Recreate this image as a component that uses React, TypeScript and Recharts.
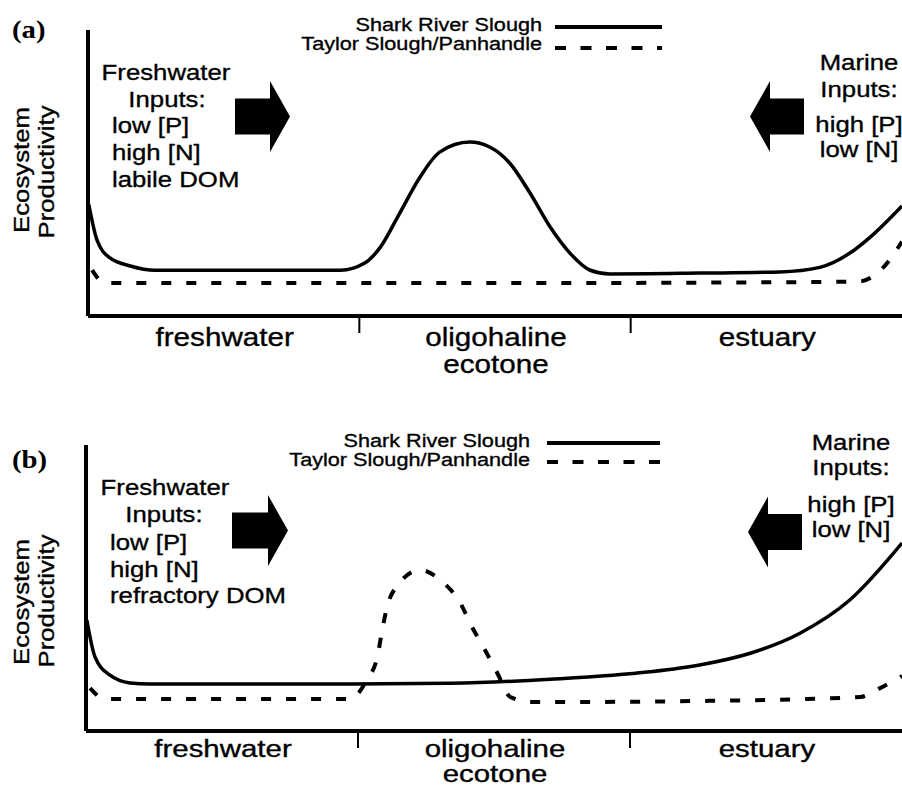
import { LineChart, Line, XAxis, YAxis } from 'recharts';

const SANS = "'Liberation Sans', Arial, Helvetica, sans-serif";
const SERIF = "'Liberation Serif', 'Times New Roman', serif";

// salinity zones along the transect (x axis, 0-100)
const zones = [['freshwater'], ['oligohaline', 'ecotone'], ['estuary']];
const seriesNames = ['Shark River Slough', 'Taylor Slough/Panhandle'];

// [position along transect, relative productivity]
const sharkA = [
  [0.1, 39], [1.1, 26.6], [2.7, 20.3], [5.2, 17.5], [8.2, 16], [19.9, 16], [31, 16],
  [34, 18.5], [35.9, 24], [38.3, 36], [40.8, 48.6], [43.2, 57.3], [46.9, 60.8],
  [49.4, 59], [51.8, 53.5], [54.3, 43], [56.8, 31], [59.2, 22], [61.7, 16],
  [64.1, 14.7], [75.2, 15], [85, 15.4], [89.9, 17], [93.6, 22], [96.1, 27.6], [100, 38.5],
];
const taylorA = [
  [0.5, 16], [2.1, 11.5], [3.6, 11.5], [50.6, 11.5], [94.6, 12], [97.7, 17], [100, 26],
];
const sharkB = [
  [0.1, 38.8], [1.1, 25.9], [2.9, 19.6], [5.4, 16.8], [7.8, 16.4], [32.4, 16.4],
  [44.6, 16.7], [56.9, 18.1], [69.1, 20.7], [75.2, 23.1], [81.4, 27.2], [87.5, 34.2],
  [93.6, 45.8], [100, 65.7],
];
const taylorB = [
  [0.5, 15], [2.3, 11.2], [32.4, 11.2], [34.4, 17.8], [35.7, 25.9], [36.3, 35.3],
  [36.9, 43.4], [38.2, 51], [40.9, 56.3], [43.7, 52.1], [45.8, 45.1], [47.3, 36.4],
  [48.9, 28.3], [50.4, 20.3], [52, 11.9], [54.7, 10.1], [75.2, 10.5], [94.9, 11.9],
  [97.3, 15], [100, 19.2],
];

const freshA = ['low [P]', 'high [N]', 'labile DOM'];
const freshB = ['low [P]', 'high [N]', 'refractory DOM'];
const marine = ['high [P]', 'low [N]'];

const pts = (arr: number[][]) => arr.map(([x, y]) => ({ x, y }));

const n = zones.length;
const zoneTicks: number[] = [];
for (let i = 0; i < n; i++) {
  zoneTicks.push(((i + 0.5) * 100) / n);
  if (i < n - 1) zoneTicks.push(((i + 1) * 100) / n);
}

const ZoneTick = (props: any) => {
  const { x, y, payload, dy1, dy2, size, sx } = props;
  const k = (payload.value * n) / 100;
  if (Math.abs(k - Math.round(k)) < 0.01) {
    return <line x1={x} x2={x} y1={y} y2={y + 17} stroke="#000" strokeWidth={2} />;
  }
  const lines = zones[Math.floor(k)];
  return (
    <g>
      {lines.map((s, i) => (
        <g key={s} transform={`translate(${x + 1},${y + (i === 0 ? dy1 : dy2)}) scale(${sx},1)`}>
          <text x={0} y={0} textAnchor="middle" fontSize={size} fontFamily={SANS} fill="#000" stroke="#000" strokeWidth={0.35}>
            {s}
          </text>
        </g>
      ))}
    </g>
  );
};

function T({ x, y, children, size = 23, anchor = 'start', sx = 1.12, rot = 0, family = SANS, weight = 'normal' }: any) {
  return (
    <g transform={`translate(${x},${y}) rotate(${rot}) scale(${sx},1)`}>
      <text
        x={0}
        y={0}
        textAnchor={anchor}
        fontSize={size}
        fontFamily={family}
        fontWeight={weight}
        fill="#000"
        stroke="#000"
        strokeWidth={family === SANS ? 0.35 : 0}
      >
        {children}
      </text>
    </g>
  );
}

function Arrow({ tail, tip, cy }: { tail: number; tip: number; cy: number }) {
  const d = tip > tail ? 1 : -1;
  const neck = tip - d * 20;
  const b = 18;
  const h = 35.5;
  const p = [
    [tail, cy - b], [neck, cy - b], [neck, cy - h], [tip, cy], [neck, cy + h], [neck, cy + b], [tail, cy + b],
  ];
  return <polygon points={p.map((q) => q.join(',')).join(' ')} fill="#000" />;
}

function Panel({ top, height, plotTop, plotBottom, left, shark, taylor, dy1, dy2, size, sx }: any) {
  const axisH = 55;
  const axisW = 10;
  return (
    <div style={{ position: 'absolute', left: 0, top }}>
      <LineChart
        width={902}
        height={height}
        margin={{ top: plotTop, right: 0, left: left - axisW, bottom: height - plotBottom - axisH }}
      >
        <XAxis
          type="number"
          dataKey="x"
          domain={[0, 100]}
          ticks={zoneTicks}
          interval={0}
          tickSize={0}
          tickMargin={0}
          tickLine={false}
          height={axisH}
          axisLine={{ stroke: '#000', strokeWidth: 4 }}
          tick={<ZoneTick dy1={dy1} dy2={dy2} size={size} sx={sx} />}
        />
        <YAxis
          type="number"
          domain={[0, 100]}
          width={axisW}
          tick={false}
          tickLine={false}
          axisLine={{ stroke: '#000', strokeWidth: 4 }}
        />
        <Line
          data={pts(taylor)}
          dataKey="y"
          name={seriesNames[1]}
          type="monotone"
          stroke="#000"
          strokeWidth={4}
          strokeDasharray="10 15"
          dot={false}
          activeDot={false}
          isAnimationActive={false}
        />
        <Line
          data={pts(shark)}
          dataKey="y"
          name={seriesNames[0]}
          type="monotone"
          stroke="#000"
          strokeWidth={3.5}
          dot={false}
          activeDot={false}
          isAnimationActive={false}
        />
      </LineChart>
    </div>
  );
}

function Legend({ right, y1, y2, ly1, ly2, x1, x2 }: any) {
  return (
    <g>
      <T x={right} y={y1} size={19} sx={1.14} anchor="end">{seriesNames[0]}</T>
      <T x={right} y={y2} size={19} sx={1.14} anchor="end">{seriesNames[1]}</T>
      <line x1={x1} x2={x2} y1={ly1} y2={ly1} stroke="#000" strokeWidth={4} />
      <line x1={x1} x2={x2} y1={ly2} y2={ly2} stroke="#000" strokeWidth={4} strokeDasharray="11 14.5" />
    </g>
  );
}

function Annotations() {
  return (
    <svg
      width={902}
      height={789}
      style={{ position: 'absolute', left: 0, top: 0, pointerEvents: 'none' }}
    >
      {/* panel (a) */}
      <T x={12} y={37.5} size={25} sx={1.15} family={SERIF} weight="bold">(a)</T>
      <T x={29} y={170} rot={-90} anchor="middle">Ecosystem</T>
      <T x={54} y={172} rot={-90} anchor="middle">Productivity</T>
      <Legend right={542} y1={31} y2={50} ly1={27} ly2={48} x1={555} x2={662} />
      <T x={166} y={80} anchor="middle">Freshwater</T>
      <T x={167} y={107} anchor="middle">Inputs:</T>
      {freshA.map((s, i) => (
        <T key={s} x={112} y={133 + i * 27}>{s}</T>
      ))}
      <Arrow tail={235} tip={290} cy={116.5} />
      <T x={859} y={70} anchor="middle">Marine</T>
      <T x={859} y={97} anchor="middle">Inputs:</T>
      {marine.map((s, i) => (
        <T key={s} x={859} y={132 + i * 25} anchor="middle">{s}</T>
      ))}
      <Arrow tail={804} tip={750} cy={116.5} />

      {/* panel (b) */}
      <T x={12} y={467.5} size={25} sx={1.15} family={SERIF} weight="bold">(b)</T>
      <T x={29} y={602} rot={-90} anchor="middle">Ecosystem</T>
      <T x={54} y={601} rot={-90} anchor="middle">Productivity</T>
      <Legend right={530} y1={447} y2={466} ly1={443} ly2={462} x1={547} x2={660} />
      <T x={165} y={495} anchor="middle">Freshwater</T>
      <T x={164} y={522} anchor="middle">Inputs:</T>
      {freshB.map((s, i) => (
        <T key={s} x={110} y={550 + i * 26.5}>{s}</T>
      ))}
      <Arrow tail={232} tip={288} cy={530.5} />
      <T x={851} y={450} anchor="middle">Marine</T>
      <T x={851} y={475} anchor="middle">Inputs:</T>
      {marine.map((s, i) => (
        <T key={s} x={851} y={512 + i * 25} anchor="middle">{s}</T>
      ))}
      <Arrow tail={802} tip={748} cy={532} />
    </svg>
  );
}

export default function App() {
  return (
    <div style={{ position: 'absolute', left: 0, top: 0, width: 902, height: 789, background: '#fff', overflow: 'hidden' }}>
      <Panel top={0} height={400} plotTop={30} plotBottom={316} left={88} shark={sharkA} taylor={taylorA} dy1={30} dy2={57} size={26} sx={1.14} />
      <Panel top={400} height={389} plotTop={45} plotBottom={331} left={86} shark={sharkB} taylor={taylorB} dy1={26} dy2={51} size={23} sx={1.28} />
      <Annotations />
    </div>
  );
}
